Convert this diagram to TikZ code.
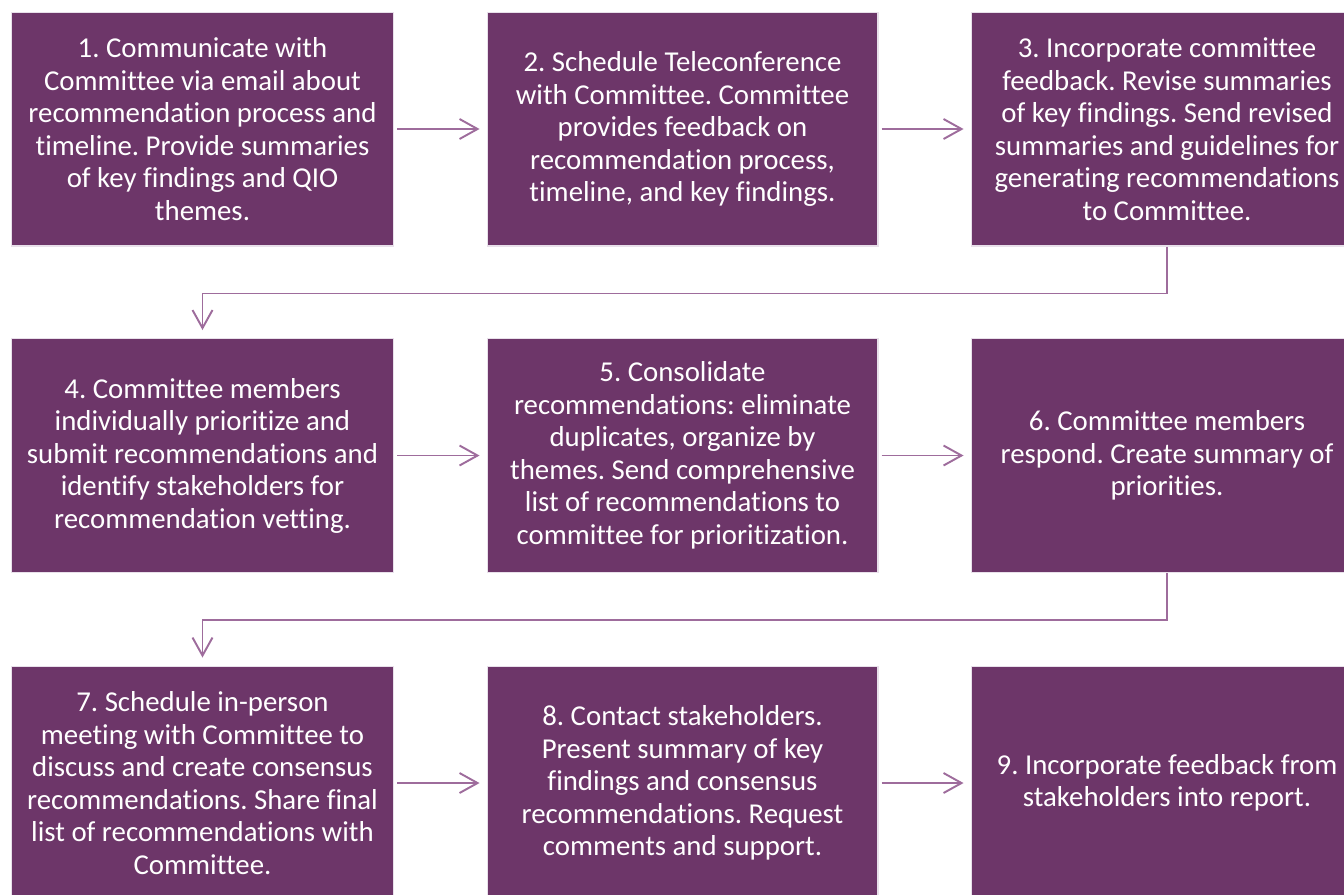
\documentclass[tikz,border=0pt]{standalone}
\usepackage{fontspec}
\setmainfont{Carlito}[Ligatures=NoCommon]
\usepackage{tikz}
\usetikzlibrary{arrows.meta,shapes}
\definecolor{plum}{RGB}{109,54,105}
\definecolor{plumline}{RGB}{158,108,156}
\definecolor{plumedge}{RGB}{232,224,234}
\tikzstyle{stepbox}=[rectangle,fill=plum,draw=plumedge,line width=0.6pt,minimum height=4.68cm,inner sep=0pt,
    text=white,align=center,font=\fontsize{16.4pt}{18.5pt}\selectfont\frenchspacing]
\tikzstyle{flow} = [draw=plumline,line width=1.1pt,-{Straight Barb[length=0.36cm,width=0.4cm,line width=1.1pt]}]

\begin{document}
\begin{tikzpicture}[x=0.02cm,y=-0.02cm]
    \clip (0,0) rectangle (1344,894);
    \useasboundingbox (0,0) rectangle (1344,894);
    % Draw the nine steps, three rows of three
    % First we draw the boxes
    \foreach \pos/\name/\boxw/\txt in {
        {(202.5,129)/s1/7.66cm/{1. Communicate with\\Committee via email about\\recommendation process and\\timeline. Provide summaries\\of key findings and QIO\\themes.}},
        {(682.5,129)/s2/7.82cm/{2. Schedule Teleconference\\with Committee. Committee\\provides feedback on\\recommendation process,\\timeline, and key findings.}},
        {(1167,129)/s3/7.84cm/{3. Incorporate committee\\feedback. Revise summaries\\of key findings. Send revised\\summaries and guidelines for\\generating recommendations\\to Committee.}},
        {(202.5,455.5)/s4/7.66cm/{4. Committee members\\individually prioritize and\\submit recommendations and\\identify stakeholders for\\recommendation vetting.}},
        {(682.5,455.5)/s5/7.82cm/{5. Consolidate\\recommendations: eliminate\\duplicates, organize by\\themes. Send comprehensive\\list of recommendations to\\committee for prioritization.}},
        {(1167,455.5)/s6/7.84cm/{6. Committee members\\respond. Create summary of\\priorities.}},
        {(202.5,783)/s7/7.66cm/{7. Schedule in-person\\meeting with Committee to\\discuss and create consensus\\recommendations. Share final\\list of recommendations with\\Committee.}},
        {(682.5,783)/s8/7.82cm/{8. Contact stakeholders.\\Present summary of key\\findings and consensus\\recommendations. Request\\comments and support.}},
        {(1167,783)/s9/7.84cm/{9. Incorporate feedback from\\stakeholders into report.}}}
        \node[stepbox,minimum width=\boxw] (\name) at \pos {\txt};

    % Connect steps along each row
    \foreach \source/ \dest in {s1/s2, s2/s3, s4/s5, s5/s6, s7/s8, s8/s9}
        \path[flow] ([xshift=0.06cm]\source.east) -- ([xshift=-0.14cm]\dest.west);

    % Wrap to the next row
    \foreach \source/ \dest in {s3/s4, s6/s7}
        \path[flow] (\source.south) -- ++(0,47) -| ([yshift=0.16cm]\dest.north);

\end{tikzpicture}
\end{document}
